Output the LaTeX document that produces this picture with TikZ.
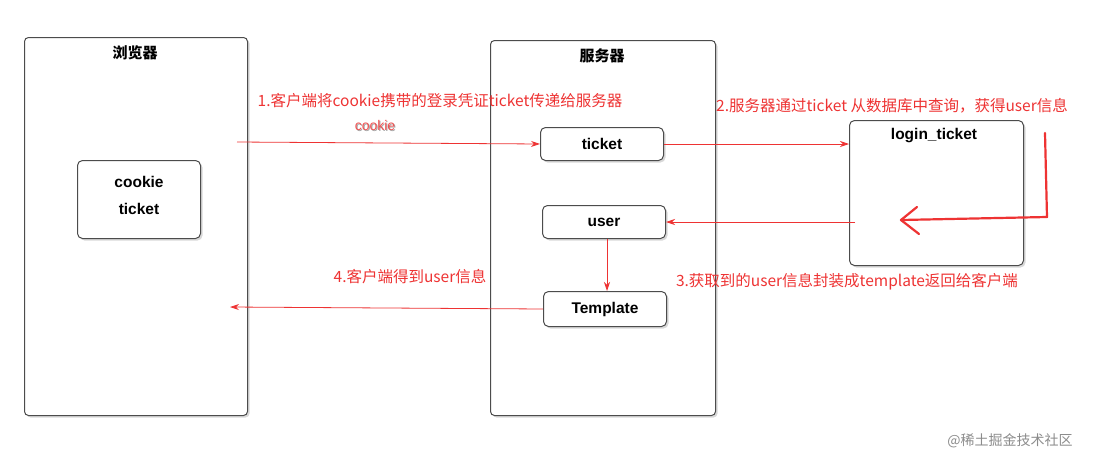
\documentclass[tikz,border=0pt]{standalone}
\usepackage{fontspec}
\setmainfont{Liberation Sans}
\newfontfamily\cjk{Noto Sans CJK SC}
\usetikzlibrary{shadows,arrows.meta}
\definecolor{rd}{HTML}{EE3333}
\tikzset{
 x=1pt,y=-1pt,
 lane/.style={draw=black!70,line width=1pt,rounded corners=4pt,fill=white,drop shadow={shadow xshift=2pt,shadow yshift=-2pt,opacity=.3}},
 box/.style={draw=black!70,line width=1pt,rounded corners=5pt,fill=white,drop shadow={shadow xshift=2pt,shadow yshift=-2pt,opacity=.3},font=\bfseries\fontsize{15.5}{18}\selectfont},
 lbl/.style={text=rd,font=\cjk\fontsize{15.5}{18}\selectfont,inner sep=0},
 arr/.style={draw=rd,line width=0.8pt,-{Stealth[length=9pt,width=6pt]}},
}
\begin{document}
\begin{tikzpicture}
\useasboundingbox (0,0) rectangle (1093,458);
\fill[white] (0,0) rectangle (1093,458);
\node[lane,minimum width=223pt,minimum height=378pt,anchor=north west] (br) at (24,37) {};
\node[font=\cjk\bfseries\fontsize{15}{18}\selectfont] (brt) at (135,53) {浏览器};
\node[box,minimum width=123pt,minimum height=78pt,anchor=north west,align=center,text depth=8pt] (ck) at (77,160) {cookie\\[9pt]ticket};
\node[lane,minimum width=225pt,minimum height=375pt,anchor=north west] (sv) at (490,40) {};
\node[font=\cjk\bfseries\fontsize{15}{18}\selectfont] (svt) at (602,56) {服务器};
\node[box,minimum width=123pt,minimum height=33pt,anchor=north west] (tk) at (540,127) {ticket};
\node[box,minimum width=123pt,minimum height=33pt,anchor=north west] (us) at (542,205) {user};
\node[box,minimum width=123pt,minimum height=35pt,anchor=north west] (tp) at (543,291) {Template};
\node[box,minimum width=174pt,minimum height=145pt,anchor=north west] (lt) at (849,120) {};
\node[font=\bfseries\fontsize{15.5}{18}\selectfont] (ltt) at (934,136) {login\_ticket};
\coordinate (a1) at (237,142);
\coordinate (a4) at (230,307);
\draw[arr] (a1) -- (tk.west);
\draw[arr] (tk.east) -- (lt.west |- tk.east);
\draw[arr] (lt.west |- us.east) ++(6,0) -- (us.east);
\draw[arr] (us.south -| 607,0) -- (tp.north -| 607,0);
\draw[arr] (tp.west) -- (a4);
\node[lbl] (l1) at (440,101) {1.客户端将cookie携带的登录凭证ticket传递给服务器};
\node[text=black!35,font=\fontsize{14}{16}\selectfont,inner sep=0] at (376,126) {cookie};
\node[text=rd!85,font=\fontsize{14}{16}\selectfont,inner sep=0] (lc) at (375,125) {cookie};
\node[lbl] (l2) at (892,106) {2.服务器通过ticket 从数据库中查询，获得user信息};
\node[lbl] (l3) at (847,282) {3.获取到的user信息封装成template返回给客户端};
\node[lbl] (l4) at (410,277) {4.客户端得到user信息};
\coordinate (h1) at (1045,133);
\coordinate (h2) at (1047,217);
\coordinate (h3) at (901,220);
\draw[rd,line width=2.2pt,line cap=round,line join=round] (h1) -- (h2) -- (h3);
\draw[rd,line width=2.2pt,line cap=round,line join=round] (917,207) -- (h3) -- (919,234);
\node[text=black!45,font=\cjk\fontsize{14}{16}\selectfont] (wm) at (1010,441) {@稀土掘金技术社区};
\end{tikzpicture}
\end{document}
